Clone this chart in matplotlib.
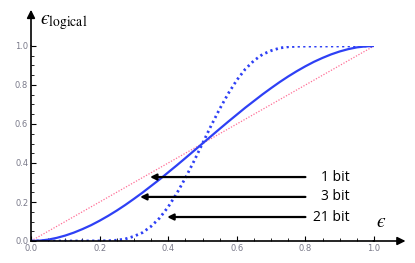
import matplotlib.pyplot as plt
import numpy as np

# values
eps = [0.0, 0.025, 0.05, 0.075, 0.1, 0.125, 0.15, 0.175, 0.2, 0.225, 0.25,
       0.275, 0.3, 0.325, 0.35, 0.375, 0.4, 0.425, 0.45, 0.475, 0.5,
       0.525, 0.55, 0.575, 0.6, 0.625, 0.65, 0.675, 0.7, 0.725, 0.75,
       0.775, 0.8, 0.825, 0.85, 0.875, 0.9, 0.925, 0.95, 0.975, 1.0]
bit1 = eps
bit3 = [0.0, 0.0018, 0.007, 0.016, 0.028, 0.043, 0.061, 0.081, 0.104, 0.129, 0.156,
        0.185, 0.216, 0.248, 0.282, 0.316, 0.352, 0.388, 0.425, 0.4625, 0.5,
        0.5375, 0.575, 0.612, 0.648, 0.684, 0.718, 0.752, 0.784, 0.815, 0.844,
        0.871, 0.896, 0.919, 0.939, 0.957, 0.972, 0.984, 0.993, 0.998, 1.0]

eps21 = [0.0, 0.1, 0.2, 0.225, 0.25, 0.275, 0.3, 0.325, 0.35, 0.375, 0.4, 0.425,
         0.45, 0.475, 0.5, 0.525, 0.55, 0.575, 0.6, 0.625, 0.65, 0.675, 0.7,
         0.725, 0.75, 0.775, 0.8, 0.9, 1.0]
bit21 = [0.0, 0.0, 0.0006, 0.0013, 0.004, 0.0105, 0.024, 0.043, 0.075, 0.118,
         0.175, 0.244, 0.323, 0.409, 0.5, 0.591, 0.677, 0.756, 0.825, 0.882,
         0.925, 0.957, 0.976, 0.9895, 0.996, 0.9987, 0.9994, 1.0, 1.0]

labels = ['1 bit', '3 bit', '21 bit']
arrow_y = [0.328, 0.226, 0.123]
arrow_x = [0.347, 0.318, 0.397]

plt.rcParams['mathtext.fontset'] = 'stix'

fig = plt.figure(figsize=(4.15, 2.63), dpi=100)
ax = fig.add_axes([31/415, 22/263, 343/415, 195/263])

blue = '#2e40f5'
ax.plot(eps, bit1, color='#ff6e96', lw=0.9, ls=(0, (1, 1.3)))
ax.plot(eps, bit3, color=blue, lw=1.6)
ax.plot(eps21, bit21, color=blue, lw=2.0, ls=(0, (0.8, 1.2)))

ax.set_xlim(0, 1)
ax.set_ylim(0, 1)
for s in ['top', 'right']:
    ax.spines[s].set_visible(False)
for s in ['left', 'bottom']:
    ax.spines[s].set_linewidth(1.2)

ax.set_xticks(np.arange(0, 1.01, 0.2))
ax.set_yticks(np.arange(0, 1.01, 0.2))
ax.set_xticks(np.arange(0, 1.01, 0.05), minor=True)
ax.set_yticks(np.arange(0, 1.01, 0.05), minor=True)
ax.set_xticklabels(['%.1f' % v for v in np.arange(0, 1.01, 0.2)])
ax.set_yticklabels(['%.1f' % v for v in np.arange(0, 1.01, 0.2)])
ax.tick_params(which='major', direction='in', length=3.5, width=0.8,
               labelsize=6, labelcolor='#7a7a8a', pad=2)
ax.tick_params(which='minor', direction='in', length=2, width=0.6)

# axis arrows
ax.annotate('', xy=(1.10, 0), xytext=(0.99, 0), xycoords='data',
            arrowprops=dict(arrowstyle='-|>', color='k', lw=1.2,
                            mutation_scale=12), annotation_clip=False)
ax.annotate('', xy=(0, 1.20), xytext=(0, 0.99), xycoords='data',
            arrowprops=dict(arrowstyle='-|>', color='k', lw=1.2,
                            mutation_scale=12), annotation_clip=False)

ax.text(0.025, 1.07, '$\u03f5_{\\rm logical}$', fontsize=14,
        ha='left', va='bottom')
ax.text(1.02, 0.05, '$\u03f5$', fontsize=14, ha='center', va='bottom')

for lab, y, x in zip(labels, arrow_y, arrow_x):
    ax.annotate('', xy=(x, y), xytext=(0.80, y),
                arrowprops=dict(arrowstyle='-|>', color='k', lw=1.6,
                                mutation_scale=9, shrinkA=0, shrinkB=0))
    ax.text(0.93, y, lab, fontsize=10, family='Open Sans',
            ha='right', va='center')

plt.savefig('out.png', dpi=100)
